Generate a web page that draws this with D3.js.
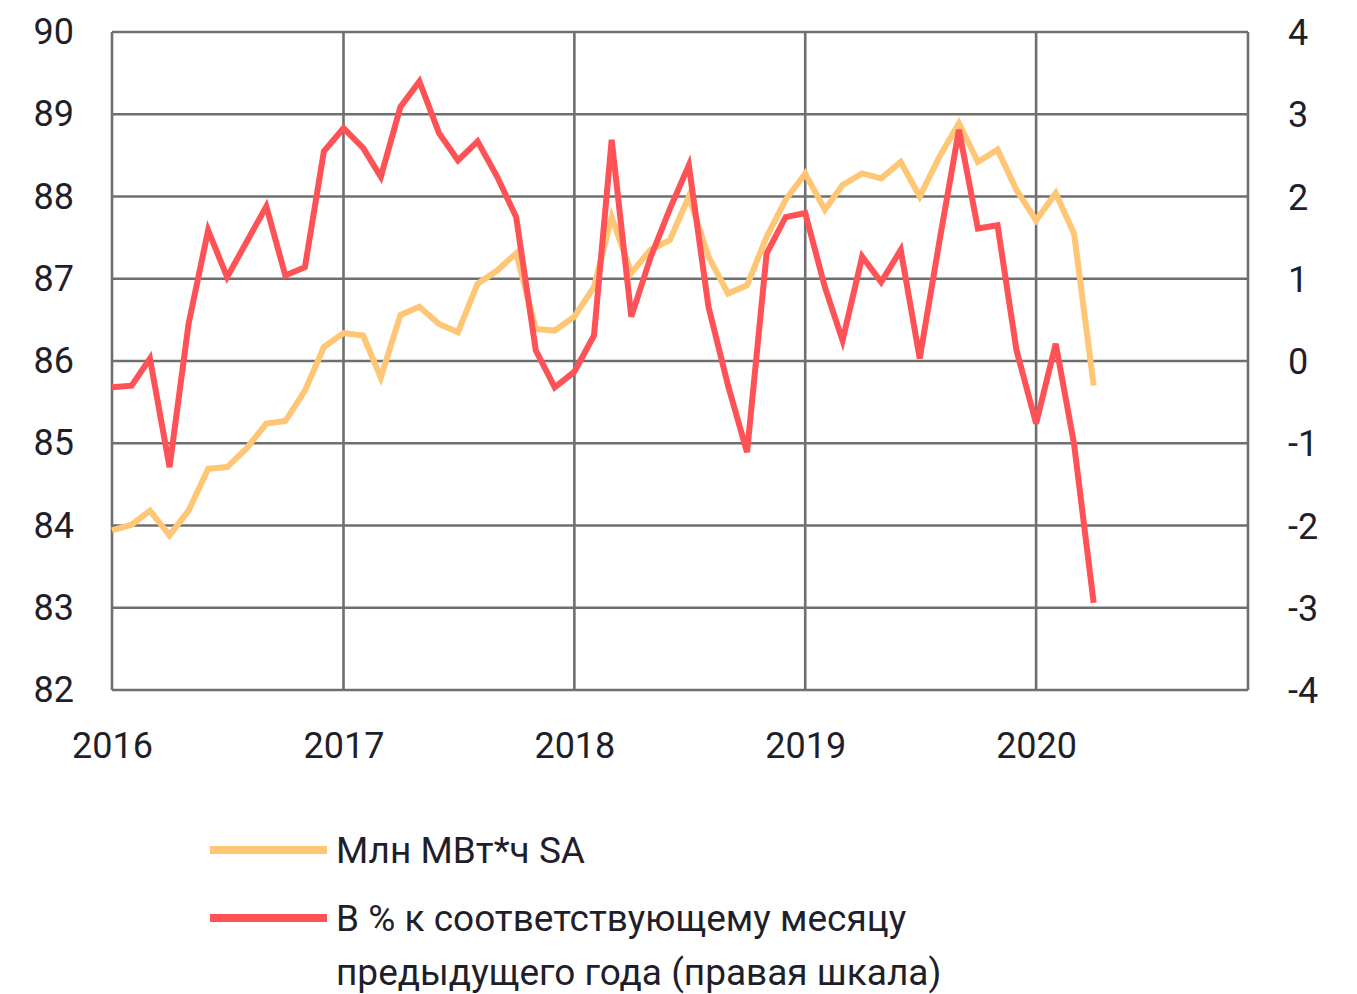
<!DOCTYPE html>
<html>
<head>
<meta charset="utf-8">
<script src="https://cdn.jsdelivr.net/npm/d3@7"></script>
<style>
  body { margin: 0; background: #fff; }
  text { font-family: Roboto, "Noto Sans", sans-serif; fill: #1f1f2b; }
</style>
</head>
<body>
<div id="chart"></div>
<script>
// monthly data, Jan 2016 .. Apr 2020
var months = d3.range(52).map(i => new Date(2016, i, 1));

// Млн МВт*ч SA (left axis)
var mwh = [
  83.94, 84.01, 84.18, 83.88, 84.18, 84.69, 84.71, 84.94, 85.24, 85.27, 85.64, 86.17,
  86.34, 86.31, 85.80, 86.56, 86.66, 86.45, 86.35, 86.94, 87.10, 87.31, 86.39, 86.37,
  86.54, 86.90, 87.75, 87.07, 87.35, 87.47, 88.00, 87.27, 86.82, 86.92, 87.51, 87.96,
  88.28, 87.84, 88.14, 88.28, 88.22, 88.42, 88.00, 88.48, 88.89, 88.42, 88.57, 88.08,
  87.71, 88.04, 87.55, 85.70
];

// % к соответствующему месяцу предыдущего года (right axis)
var yoy = [
  -0.32, -0.30, 0.03, -1.29, 0.45, 1.59, 1.02, 1.45, 1.88, 1.04, 1.14, 2.55,
  2.83, 2.59, 2.24, 3.09, 3.40, 2.77, 2.44, 2.67, 2.24, 1.75, 0.13, -0.32,
  -0.13, 0.31, 2.69, 0.54, 1.25, 1.85, 2.38, 0.66, -0.30, -1.11, 1.31, 1.75,
  1.80, 0.90, 0.25, 1.27, 0.96, 1.35, 0.03, 1.45, 2.81, 1.61, 1.65, 0.13,
  -0.76, 0.21, -1.01, -2.94
];

var leftTicks = [82, 83, 84, 85, 86, 87, 88, 89, 90];
var rightTicks = [-4, -3, -2, -1, 0, 1, 2, 3, 4];
var yearTicks = [2016, 2017, 2018, 2019, 2020];

var legendLabels = [
  ["Млн МВт*ч SA"],
  ["В % к соответствующему месяцу", "предыдущего года (правая шкала)"]
];
var colors = ["#ffc676", "#ff5257"];

var width = 1357, height = 994;
var margin = { top: 32, right: 109, bottom: 304, left: 112 };

var svg = d3.select("#chart").append("svg")
  .attr("width", width)
  .attr("height", height);

var x = d3.scaleTime()
  .domain([new Date(2016, 0, 1), new Date(2020, 11, 1)])
  .range([margin.left, width - margin.right]);

var yL = d3.scaleLinear().domain([82, 90]).range([height - margin.bottom, margin.top]);
var yR = d3.scaleLinear().domain([-4, 4]).range([height - margin.bottom, margin.top]);

// grid
var grid = svg.append("g").attr("stroke", "#6f6f6f").attr("stroke-width", 2.6);

grid.selectAll("line.h")
  .data(leftTicks)
  .enter().append("line")
    .attr("x1", x.range()[0]).attr("x2", x.range()[1])
    .attr("y1", d => yL(d)).attr("y2", d => yL(d));

grid.selectAll("line.v")
  .data(yearTicks.map(y => new Date(y, 0, 1)).concat([new Date(2020, 11, 1)]))
  .enter().append("line")
    .attr("x1", d => x(d)).attr("x2", d => x(d))
    .attr("y1", yL.range()[0]).attr("y2", yL.range()[1]);

// axes
var axisL = svg.append("g")
  .attr("transform", `translate(${margin.left},0)`)
  .call(d3.axisLeft(yL).tickValues(leftTicks).tickFormat(d => String(d)).tickSize(0).tickPadding(38));

var axisR = svg.append("g")
  .attr("transform", `translate(${width - margin.right},0)`)
  .call(d3.axisRight(yR).tickValues(rightTicks).tickFormat(d => String(d)).tickSize(0).tickPadding(40));

var axisX = svg.append("g")
  .attr("transform", `translate(0,${height - margin.bottom})`)
  .call(d3.axisBottom(x).tickValues(yearTicks.map(y => new Date(y, 0, 1)))
    .tickFormat(d3.timeFormat("%Y")).tickSize(0).tickPadding(42));

[axisL, axisR, axisX].forEach(a => {
  a.select(".domain").remove();
  a.selectAll("text")
    .style("font-size", "36px")
    .style("font-family", "Roboto, sans-serif")
    .attr("fill", "#1f1f2b");
});
axisR.selectAll("text").attr("dy", "0.35em");

// lines
var lineL = d3.line().x((d, i) => x(months[i])).y(d => yL(d));
var lineR = d3.line().x((d, i) => x(months[i])).y(d => yR(d));

svg.append("path")
  .datum(mwh)
  .attr("fill", "none")
  .attr("stroke", colors[0])
  .attr("stroke-width", 6)
  .attr("stroke-linejoin", "miter")
  .attr("d", lineL);

svg.append("path")
  .datum(yoy)
  .attr("fill", "none")
  .attr("stroke", colors[1])
  .attr("stroke-width", 6)
  .attr("stroke-linejoin", "miter")
  .attr("d", lineR);

// legend
var legendY = [850, 918];
legendLabels.forEach((lines, i) => {
  svg.append("line")
    .attr("x1", 210).attr("x2", 327)
    .attr("y1", legendY[i]).attr("y2", legendY[i])
    .attr("stroke", colors[i])
    .attr("stroke-width", 8);

  var t = svg.append("text")
    .attr("x", 336)
    .attr("y", legendY[i] + 13)
    .style("font-size", "37px");
  lines.forEach((s, j) => {
    t.append("tspan")
      .attr("x", 336)
      .attr("dy", j === 0 ? 0 : 54)
      .text(s);
  });
});
</script>
</body>
</html>
